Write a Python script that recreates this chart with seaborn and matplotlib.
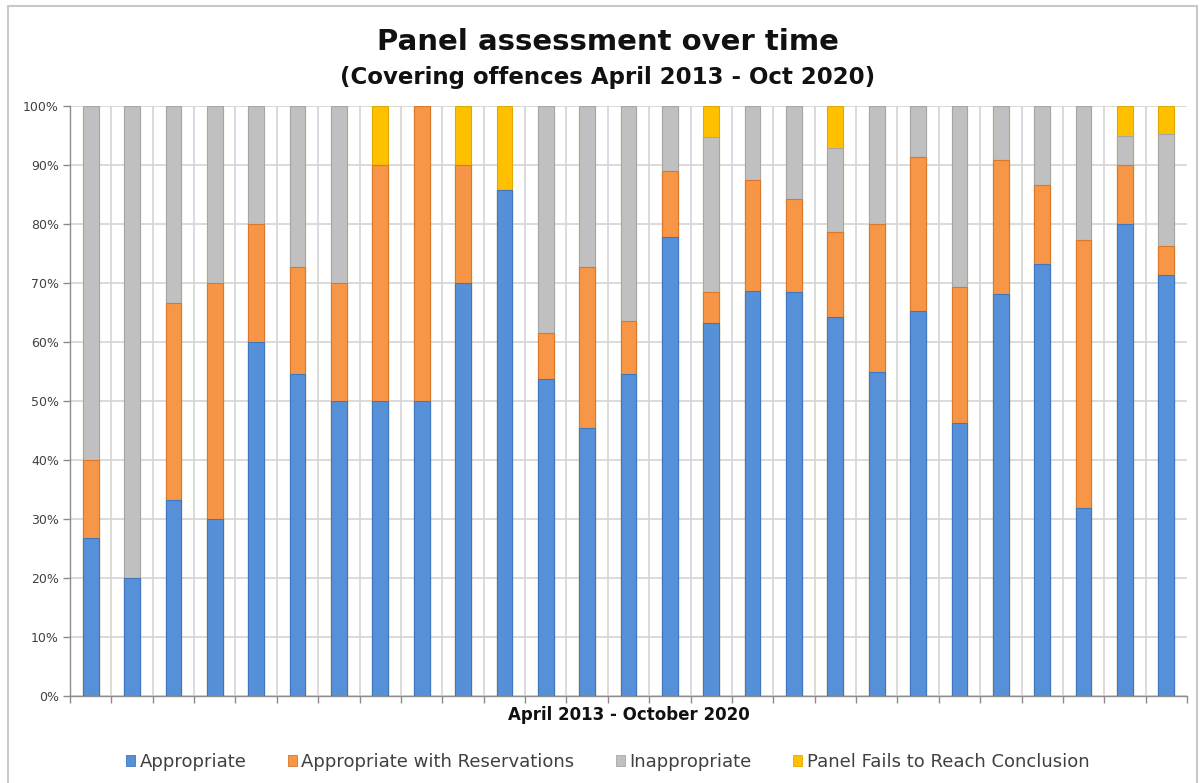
import matplotlib
matplotlib.use("Agg")
import matplotlib.pyplot as plt
import matplotlib.patches as mpatches
import numpy as np
import pandas as pd
import seaborn as sns

# Data: share of cases (%) per reporting period
periods = [str(i) for i in range(1, 28)]
appropriate = [26.7, 20.0, 33.3, 30.0, 60.0, 54.5, 50.0, 50.0, 50.0, 70.0,
               85.7, 53.8, 45.4, 54.5, 77.8, 63.2, 68.7, 68.4, 64.3, 55.0,
               65.2, 46.2, 68.2, 73.3, 31.8, 80.0, 71.4]
with_reservations = [13.3, 0.0, 33.3, 40.0, 20.0, 18.2, 20.0, 40.0, 50.0, 20.0,
                     0.0, 7.7, 27.3, 9.1, 11.1, 5.3, 18.8, 15.8, 14.3, 25.0,
                     26.1, 23.1, 22.7, 13.3, 45.5, 10.0, 4.8]
inappropriate = [60.0, 80.0, 33.4, 30.0, 20.0, 27.3, 30.0, 0.0, 0.0, 0.0,
                 0.0, 38.5, 27.3, 36.4, 11.1, 26.2, 12.5, 15.8, 14.3, 20.0,
                 8.7, 30.7, 9.1, 13.4, 22.7, 5.0, 19.0]
no_conclusion = [0.0, 0.0, 0.0, 0.0, 0.0, 0.0, 0.0, 10.0, 0.0, 10.0,
                 14.3, 0.0, 0.0, 0.0, 0.0, 5.3, 0.0, 0.0, 7.1, 0.0,
                 0.0, 0.0, 0.0, 0.0, 0.0, 5.0, 4.8]

labels = ["Appropriate", "Appropriate with Reservations", "Inappropriate",
          "Panel Fails to Reach Conclusion"]
colors = ["#5590D8", "#F79646", "#C0C0C0", "#FFC000"]
edges = ["#3F77BF", "#D9772A", "#A6A6A6", "#E0A800"]

df = pd.DataFrame({
    "period": periods,
    "a": appropriate,
    "r": with_reservations,
    "i": inappropriate,
    "f": no_conclusion,
})
# cumulative tops for stacking (draw tallest first, overlay the rest)
df["c1"] = df["a"]
df["c2"] = df["c1"] + df["r"]
df["c3"] = df["c2"] + df["i"]
df["c4"] = df["c3"] + df["f"]

sns.set_style("white")
plt.rcParams["font.family"] = ["DejaVu Sans"]

fig = plt.figure(figsize=(12.01, 7.83), dpi=100)
ax = fig.add_axes([70 / 1201, 1 - 696 / 783, (1187 - 70) / 1201, (696 - 106) / 783])

for col, c, ec in zip(["c4", "c3", "c2", "c1"], colors[::-1], edges[::-1]):
    sns.barplot(data=df, x="period", y=col, color=c, saturation=1, width=0.38,
                errorbar=None, edgecolor=ec, linewidth=0.8, ax=ax, zorder=3)

ax.set_xlim(-0.5, len(periods) - 0.5)
ax.set_ylim(0, 100)
ax.set_yticks(np.arange(0, 101, 10))
ax.set_yticklabels([f"{v}%" for v in range(0, 101, 10)], fontsize=9, color="#404040")
ax.tick_params(axis="y", length=5, width=1, color="#8C8C8C", pad=3, direction="out", left=True)

ax.set_xticks([])
ax.set_xticks(np.arange(-0.5, len(periods) + 0.5, 1), minor=True)
ax.tick_params(axis="x", which="minor", length=5, width=1, color="#8C8C8C", bottom=True, labelbottom=False)
ax.set_xlabel("")
ax.set_ylabel("")

ax.grid(axis="y", color="#D4D4D4", linewidth=1.2, zorder=0)
ax.grid(axis="x", which="minor", color="#D4D4D4", linewidth=1.2, zorder=0)
ax.xaxis.get_minor_ticks()[-1].gridline.set_visible(False)
ax.set_axisbelow(True)

for s in ["top", "right"]:
    ax.spines[s].set_visible(False)
for s in ["left", "bottom"]:
    ax.spines[s].set_color("#8C8C8C")
    ax.spines[s].set_linewidth(1)

fig.text(0.506, 1 - 50 / 783, "Panel assessment over time", ha="center", va="baseline",
         fontsize=21, fontweight="bold", color="#111111")
fig.text(0.506, 1 - 84 / 783, "(Covering offences April 2013 - Oct 2020)", ha="center",
         va="baseline", fontsize=16.5, fontweight="bold", color="#111111")
fig.text(0.524, 1 - 720 / 783, "April 2013 - October 2020", ha="center", va="baseline",
         fontsize=12, fontweight="bold", color="#111111",
         family=["Liberation Sans Narrow", "DejaVu Sans"])

handles = [mpatches.Patch(facecolor=c, edgecolor=e, linewidth=0.6) for c, e in zip(colors, edges)]
leg = fig.legend(handles, labels, loc="center", bbox_to_anchor=(0.506, 1 - 762 / 783),
                 ncol=4, frameon=False, fontsize=13, handlelength=0.5, handleheight=0.5,
                 handletextpad=0.25, columnspacing=2.3)
for t in leg.get_texts():
    t.set_color("#404040")

# chart border
fig.patches.append(mpatches.Rectangle((8 / 1201, -0.02), (1197 - 8) / 1201, 1 - 6 / 783 + 0.02,
                                      transform=fig.transFigure, fill=False,
                                      edgecolor="#C8C8C8", linewidth=1.5))

fig.savefig("out.png", dpi=100)
